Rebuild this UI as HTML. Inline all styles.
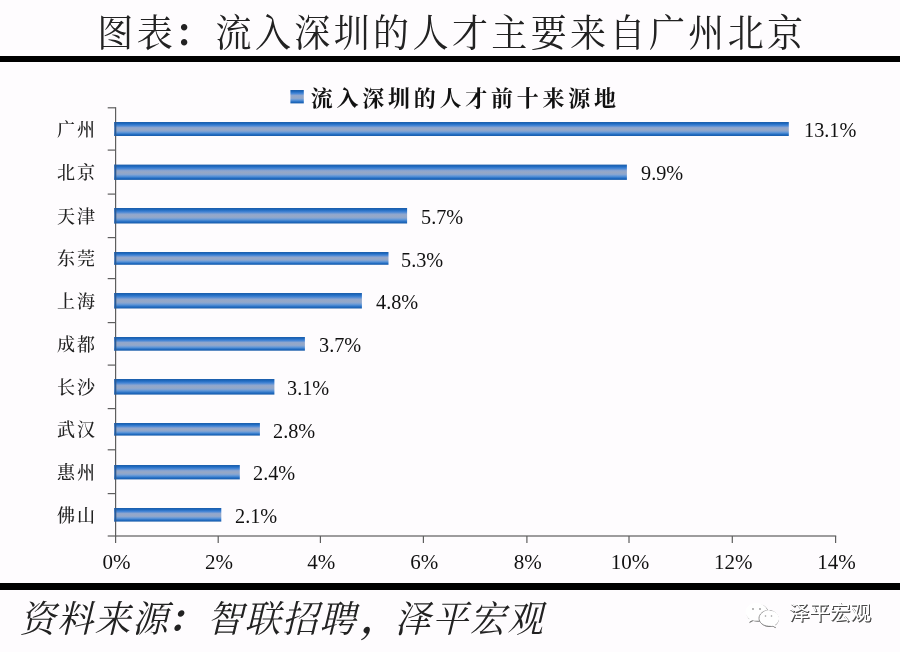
<!DOCTYPE html>
<html lang="zh-CN">
<head>
<meta charset="utf-8">
<title>图表：流入深圳的人才主要来自广州北京</title>
<style>
html,body{margin:0;padding:0;}
body{width:900px;height:652px;background:#fefcfe;position:relative;overflow:hidden;
  font-family:"Liberation Serif","Noto Serif CJK SC",serif;color:#1a1a1a;}
.abs{position:absolute;white-space:nowrap;line-height:1;}
.gfx{position:absolute;left:0;top:0;}
.title{left:97.3px;top:15.9px;font-size:36px;letter-spacing:3.4px;font-weight:400;color:#222;transform:scaleY(1.045);transform-origin:left 33.5px;}
.tc{font-weight:700;margin-left:-1.5px;margin-right:1.5px;}
.legend{left:310.8px;top:87.6px;font-size:22px;font-weight:700;letter-spacing:3.75px;color:#111;}
.cat{font-size:18px;letter-spacing:2px;color:#222;font-weight:500;}
.val{font-size:21px;color:#111;transform:scale(0.965,1.04);transform-origin:left center;}
.xt{font-size:21px;color:#111;text-align:center;width:80px;}
.foot{font-family:"Liberation Serif","Noto Serif CJK SC",serif;left:19.5px;top:602.2px;font-size:36px;letter-spacing:1.5px;font-style:italic;color:#222;transform:scaleY(1.03);transform-origin:left 33px;}
.pc{margin-left:-2.5px;margin-right:2.5px;font-weight:700;font-family:"Liberation Serif","Noto Serif CJK SC",serif;}
.pm{margin-left:4px;margin-right:-4px;font-weight:700;font-family:"Liberation Serif","Noto Serif CJK SC",serif;}
.wm{left:789px;top:603px;font-family:"Liberation Sans","Noto Sans CJK SC",sans-serif;font-size:20.5px;color:#fff;
  text-shadow:1px 1px 0 #4a4a4a,0.5px 1px 0 #555,1px 0.5px 0 #555;}
</style>
</head>
<body>
<svg class="gfx" width="900" height="652" viewBox="0 0 900 652">
<defs>
<linearGradient id="bg" x1="0" y1="0" x2="0" y2="1">
<stop offset="0" stop-color="#1b5ca8"/>
<stop offset="0.12" stop-color="#1f6ac0"/>
<stop offset="0.26" stop-color="#4686d6"/>
<stop offset="0.40" stop-color="#8ea6cf"/>
<stop offset="0.52" stop-color="#96a8c6"/>
<stop offset="0.64" stop-color="#8aa6d0"/>
<stop offset="0.76" stop-color="#5a94d8"/>
<stop offset="0.90" stop-color="#1f6ac0"/>
<stop offset="1" stop-color="#1b5ca8"/>
</linearGradient>
</defs>
<rect x="0" y="56" width="900" height="6" fill="#000"/>
<rect x="0" y="583" width="900" height="7" fill="#000"/>
<rect x="290.4" y="90" width="13.4" height="13.4" fill="url(#bg)"/>
<g fill="url(#bg)">
<rect x="114.3" y="122.0" width="674.5" height="14.0"/>
<rect x="114.3" y="164.6" width="512.6" height="15.3"/>
<rect x="114.3" y="208.0" width="292.8" height="15.5"/>
<rect x="114.3" y="252.0" width="274.2" height="12.8"/>
<rect x="114.3" y="293.0" width="247.6" height="15.5"/>
<rect x="114.3" y="337.0" width="190.6" height="13.7"/>
<rect x="114.3" y="379.0" width="160.1" height="15.6"/>
<rect x="114.3" y="423.0" width="145.6" height="12.6"/>
<rect x="114.3" y="465.0" width="125.5" height="14.4"/>
<rect x="114.3" y="508.0" width="107.0" height="13.6"/>
</g>
<g fill="#5e5e5e">
<rect x="115.0" y="107.2" width="1.2" height="429.4"/>
<rect x="107.7" y="535.4" width="728.5" height="1.2"/>
<rect x="107.7" y="107.2" width="8" height="1.2"/>
<rect x="107.7" y="149.5" width="8" height="1.2"/>
<rect x="107.7" y="193.5" width="8" height="1.2"/>
<rect x="107.7" y="237.0" width="8" height="1.2"/>
<rect x="107.7" y="278.0" width="8" height="1.2"/>
<rect x="107.7" y="322.0" width="8" height="1.2"/>
<rect x="107.7" y="364.5" width="8" height="1.2"/>
<rect x="107.7" y="408.0" width="8" height="1.2"/>
<rect x="107.7" y="449.2" width="8" height="1.2"/>
<rect x="107.7" y="493.0" width="8" height="1.2"/>
<rect x="115.0" y="536.0" width="1.2" height="7"/>
<rect x="217.6" y="536.0" width="1.2" height="7"/>
<rect x="319.8" y="536.0" width="1.2" height="7"/>
<rect x="422.8" y="536.0" width="1.2" height="7"/>
<rect x="526.3" y="536.0" width="1.2" height="7"/>
<rect x="628.4" y="536.0" width="1.2" height="7"/>
<rect x="731.7" y="536.0" width="1.2" height="7"/>
<rect x="835.0" y="536.0" width="1.2" height="7"/>
</g>
<g fill="#1c5aa6" opacity="0.8">
<rect x="114.3" y="122.0" width="1.9" height="14.0"/>
<rect x="114.3" y="164.6" width="1.9" height="15.3"/>
<rect x="114.3" y="208.0" width="1.9" height="15.5"/>
<rect x="114.3" y="252.0" width="1.9" height="12.8"/>
<rect x="114.3" y="293.0" width="1.9" height="15.5"/>
<rect x="114.3" y="337.0" width="1.9" height="13.7"/>
<rect x="114.3" y="379.0" width="1.9" height="15.6"/>
<rect x="114.3" y="423.0" width="1.9" height="12.6"/>
<rect x="114.3" y="465.0" width="1.9" height="14.4"/>
<rect x="114.3" y="508.0" width="1.9" height="13.6"/>
</g>
</svg>
<div class="abs title">图表<span class="tc">：</span>流入深圳的人才主要来自广州北京</div>
<div class="abs legend">流入深圳的人才前十来源地</div>
<div class="abs xt" style="left:76.5px;top:551.7px">0%</div>
<div class="abs xt" style="left:179.1px;top:551.7px">2%</div>
<div class="abs xt" style="left:281.3px;top:551.7px">4%</div>
<div class="abs xt" style="left:384.3px;top:551.7px">6%</div>
<div class="abs xt" style="left:487.8px;top:551.7px">8%</div>
<div class="abs xt" style="left:589.9px;top:551.7px">10%</div>
<div class="abs xt" style="left:693.2px;top:551.7px">12%</div>
<div class="abs xt" style="left:796.5px;top:551.7px">14%</div>
<div class="abs cat" style="left:57px;top:121.0px">广州</div>
<div class="abs val" style="left:803.5px;top:120.2px">13.1%</div>
<div class="abs cat" style="left:57px;top:164.2px">北京</div>
<div class="abs val" style="left:640.8px;top:163.4px">9.9%</div>
<div class="abs cat" style="left:57px;top:207.8px">天津</div>
<div class="abs val" style="left:420.9px;top:206.9px">5.7%</div>
<div class="abs cat" style="left:57px;top:250.4px">东莞</div>
<div class="abs val" style="left:401.4px;top:249.6px">5.3%</div>
<div class="abs cat" style="left:57px;top:292.8px">上海</div>
<div class="abs val" style="left:375.8px;top:291.9px">4.8%</div>
<div class="abs cat" style="left:57px;top:335.9px">成都</div>
<div class="abs val" style="left:319.1px;top:335.1px">3.7%</div>
<div class="abs cat" style="left:57px;top:378.8px">长沙</div>
<div class="abs val" style="left:286.9px;top:378.0px">3.1%</div>
<div class="abs cat" style="left:57px;top:421.3px">武汉</div>
<div class="abs val" style="left:273.0px;top:420.5px">2.8%</div>
<div class="abs cat" style="left:57px;top:464.2px">惠州</div>
<div class="abs val" style="left:253.3px;top:463.4px">2.4%</div>
<div class="abs cat" style="left:57px;top:506.8px">佛山</div>
<div class="abs val" style="left:235.2px;top:506.0px">2.1%</div>
<div class="abs foot">资料来源<span class="pc">：</span>智联招聘<span class="pm">，</span>泽平宏观</div>
<svg class="abs" style="left:743px;top:600px" width="38" height="30" viewBox="0 0 38 30">
<g fill="#777" transform="translate(0.9,0.9)">
<path d="M13.5 3C7.4 3 2.5 7 2.5 12c0 2.8 1.5 5.2 3.9 6.9L5.3 22.3l4-2.1c1.3.4 2.7.6 4.2.6 6.1 0 11-4 11-8.900S19.600 3 13.500 3z"/>
<path d="M25.5 10.5c-5.200 0-9.500 3.500-9.500 7.800s4.300 7.800 9.500 7.800c1.200 0 2.300-.2 3.300-.5l3.400 1.800-.9-2.900c2.200-1.400 3.700-3.600 3.700-6.200 0-4.300-4.300-7.800-9.500-7.800z"/>
</g>
<path fill="#fff" d="M13.5 3C7.4 3 2.5 7 2.5 12c0 2.8 1.5 5.2 3.900 6.900L5.300 22.300l4-2.100c1.300.4 2.700.6 4.200.6 6.100 0 11-4 11-8.900S19.600 3 13.500 3z"/>
<path fill="#fff" stroke="#888" stroke-width="0.9" d="M25.500 10.500c-5.200 0-9.500 3.500-9.500 7.800s4.300 7.800 9.500 7.800c1.200 0 2.300-.2 3.300-.5l3.400 1.800-.9-2.900c2.200-1.400 3.700-3.600 3.700-6.200 0-4.300-4.300-7.800-9.500-7.800z"/>
<path fill="#fff" d="M25.500 9.800c-5.200 0-9.500 3.500-9.500 7.800 0 1 .2 2 .7 2.900 0 0 6 6 12 5l3.400 1.800-.9-2.900c2.200-1.400 3.700-3.600 3.700-6.200 0-4.300-4.300-7.800-9.500-7.800z" transform="translate(1.200,0.300)"/>
<g fill="#999"><circle cx="10" cy="9" r="0.900"/><circle cx="17" cy="9" r="0.900"/><circle cx="22.500" cy="16" r="0.800"/><circle cx="28.500" cy="16" r="0.800"/></g>
</svg>
<div class="abs wm">泽平宏观</div>
</body>
</html>
